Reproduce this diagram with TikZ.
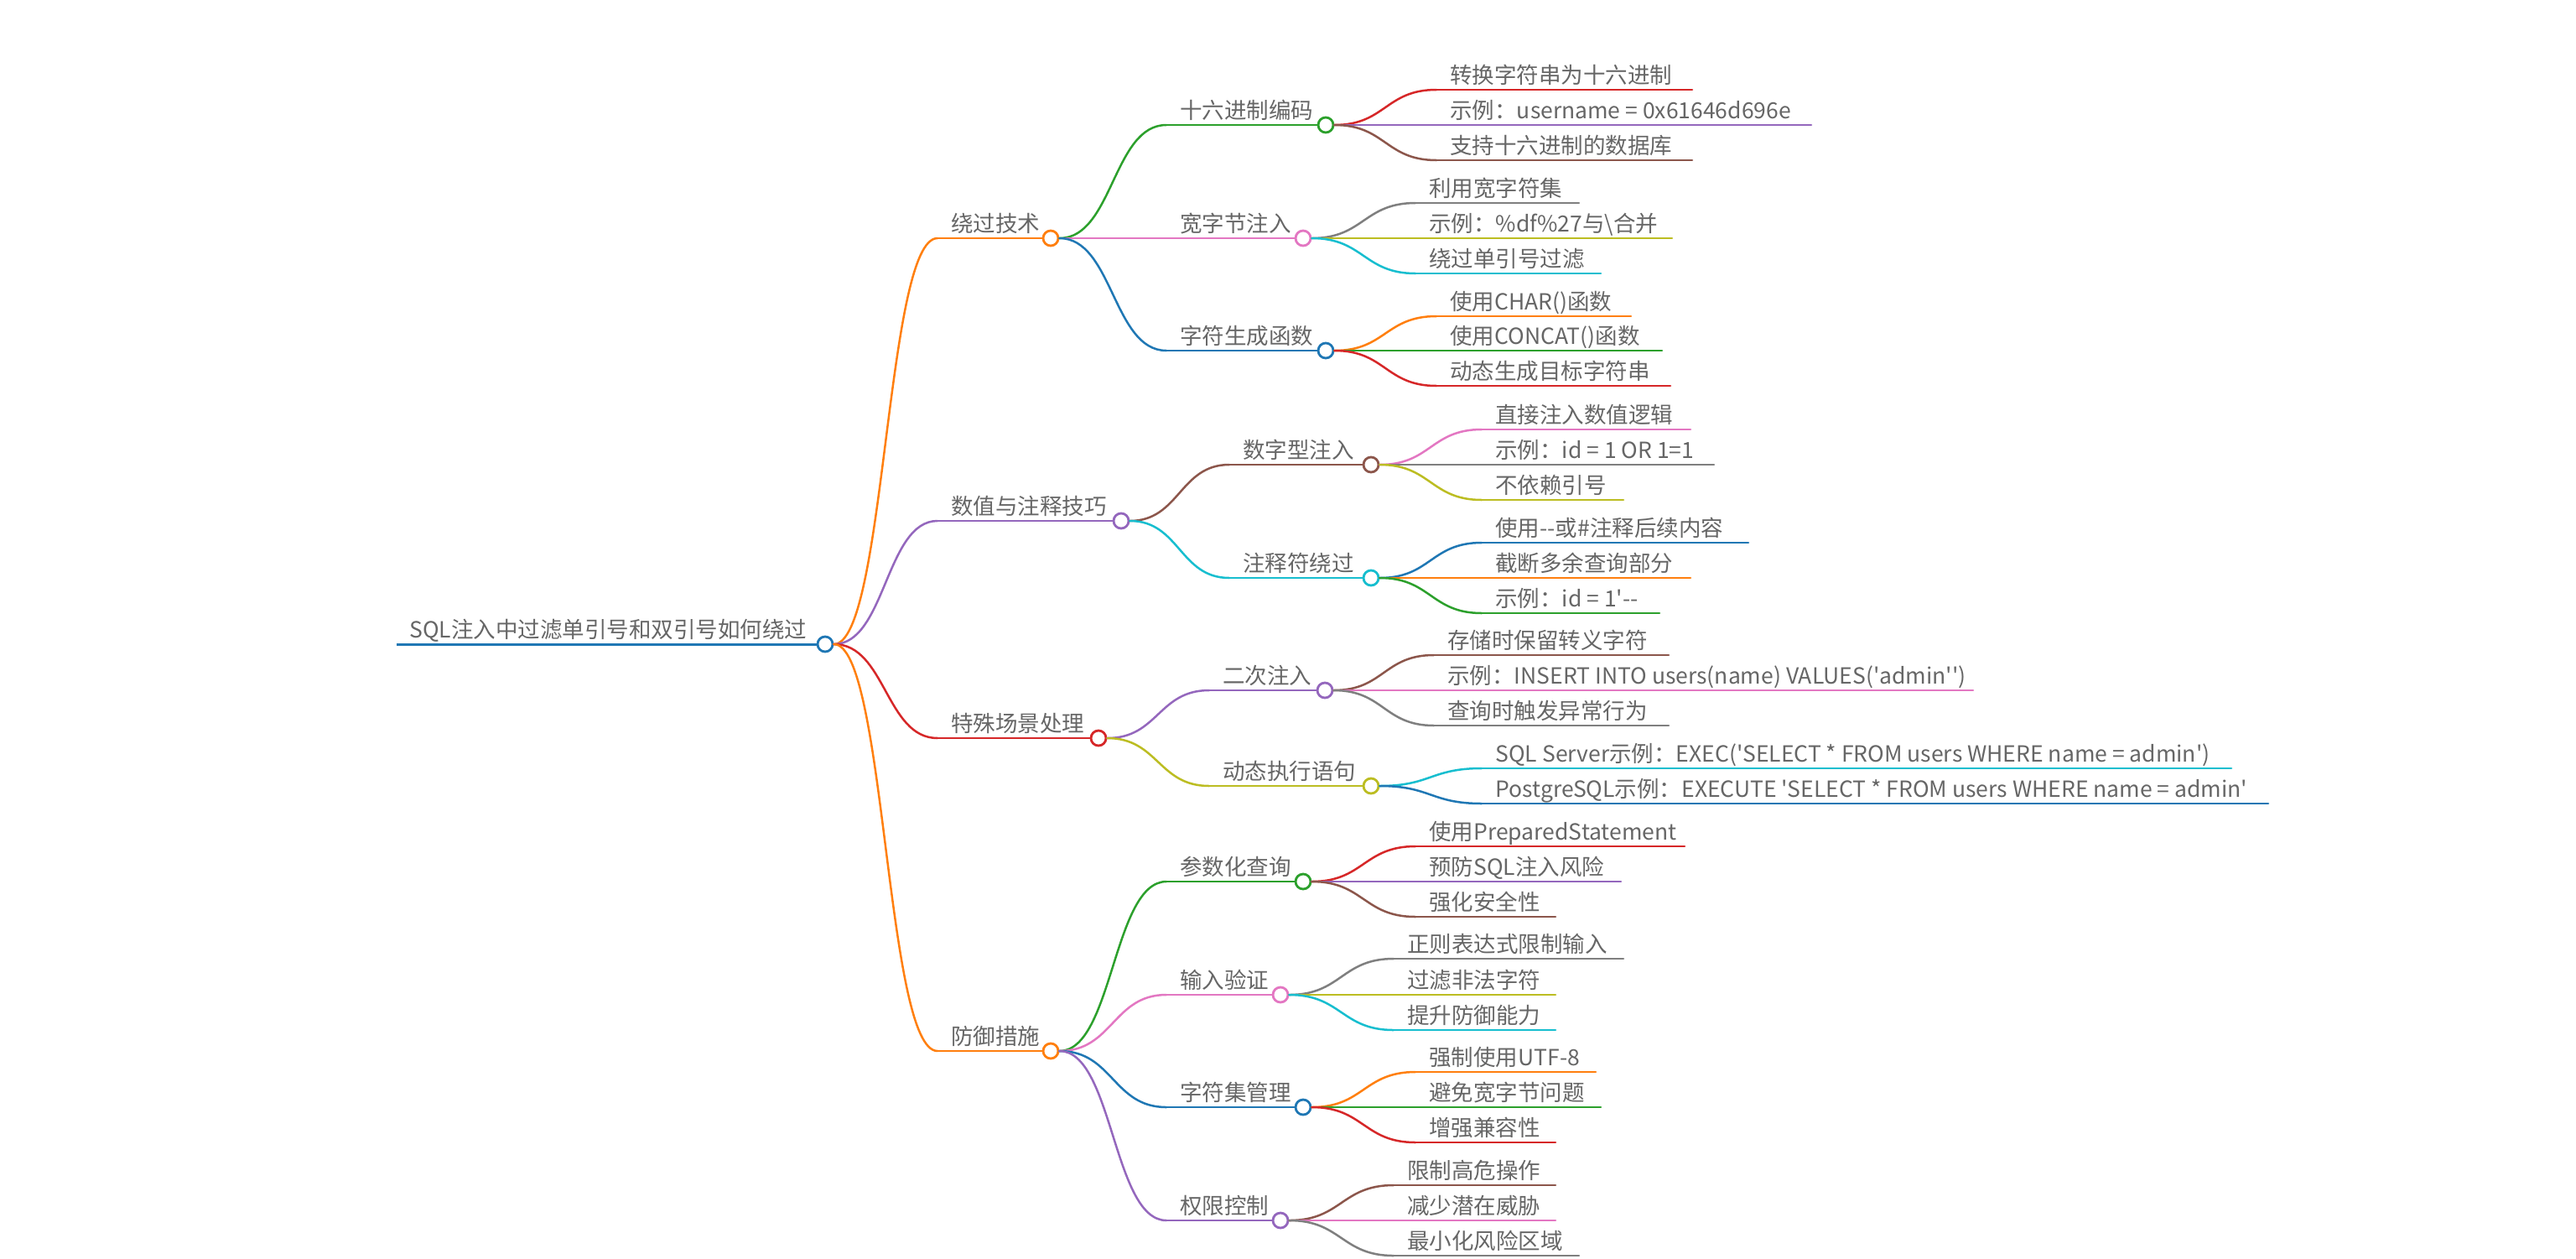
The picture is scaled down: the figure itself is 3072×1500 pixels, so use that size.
\documentclass[tikz,border=0pt]{standalone}
\usepackage{fontspec}
\newfontfamily\mmfont{Noto Sans CJK SC}
\usetikzlibrary{calc}
\definecolor{mblue}{HTML}{1F77B4}
\definecolor{morange}{HTML}{FF7F0E}
\definecolor{mgreen}{HTML}{2CA02C}
\definecolor{mred}{HTML}{D62728}
\definecolor{mpurple}{HTML}{9467BD}
\definecolor{mbrown}{HTML}{8C564B}
\definecolor{mpink}{HTML}{E377C2}
\definecolor{mgray}{HTML}{7F7F7F}
\definecolor{molive}{HTML}{BCBD22}
\definecolor{mcyan}{HTML}{17BECF}
\definecolor{mtext}{HTML}{666666}
\tikzset{
  mmline/.style={line width=1.25pt,line cap=round},
  mmcircle/.style={circle,minimum size=9pt,inner sep=0pt,line width=1.4pt,fill=white},
  mmtext/.style={anchor=base west,inner sep=0pt,text=mtext,font=\mmfont\fontsize{13.25}{16}\selectfont},
}
\newcommand\mminode[6]{%
  \coordinate (#1s) at (#3,#5);
  \node[mmcircle,draw=#2] (#1) at (#4,#5) {};
  \draw[mmline,#2] (#1s) -- (#1.west);
  \node[mmtext] (#1t) at ([shift={(16,-8)}]#1s) {#6};
}
\newcommand\mmleaf[6]{%
  \coordinate (#1s) at (#3,#5);
  \coordinate (#1) at (#4,#5);
  \draw[mmline,#2] (#1s) -- (#1);
  \node[mmtext] (#1t) at ([shift={(16,-8)}]#1s) {#6};
}
\newcommand\mmlink[3]{%
  \draw[mmline,#3] let \p1=(#1.east), \p2=(#2s) in
    (\p1) .. controls ({0.5*\x1+0.5*\x2},\y1) and ({0.5*\x1+0.5*\x2},\y2) .. (\p2);
}
\begin{document}
\begin{tikzpicture}[x=0.5pt,y=-0.5pt]
\useasboundingbox[fill=white] (0,0) rectangle (3072,1500);
% root
\coordinate (rootS) at (473,768);
\node[mmcircle,draw=mblue] (root) at (984,768) {};
\draw[mblue,line width=1.5pt] (rootS) -- (root.west);
\node[mmtext] (roott) at ([shift={(15,-8)}]rootS) {SQL注入中过滤单引号和双引号如何绕过};

% level 1
\mminode{A}{morange}{1118}{1253}{284}{绕过技术}
\mminode{B}{mpurple}{1118}{1337}{621}{数值与注释技巧}
\mminode{C}{mred}{1118}{1310}{880}{特殊场景处理}
\mminode{D}{morange}{1118}{1253}{1253}{防御措施}
\mmlink{root}{A}{morange}
\mmlink{root}{B}{mpurple}
\mmlink{root}{C}{mred}
\mmlink{root}{D}{morange}

% A children
\mminode{Aa}{mgreen}{1391}{1581}{149}{十六进制编码}
\mminode{Ab}{mpink}{1391}{1554}{284}{宽字节注入}
\mminode{Ac}{mblue}{1391}{1581}{418}{字符生成函数}
\mmlink{A}{Aa}{mgreen}
\mmlink{A}{Ab}{mpink}
\mmlink{A}{Ac}{mblue}

\mmleaf{Aa1}{mred}{1713}{2018}{107}{转换字符串为十六进制}
\mmleaf{Aa2}{mpurple}{1713}{2160}{149}{示例：username = 0x61646d696e}
\mmleaf{Aa3}{mbrown}{1713}{2018}{191}{支持十六进制的数据库}
\mmlink{Aa}{Aa1}{mred}
\mmlink{Aa}{Aa2}{mpurple}
\mmlink{Aa}{Aa3}{mbrown}

\mmleaf{Ab1}{mgray}{1688}{1883}{242}{利用宽字符集}
\mmleaf{Ab2}{molive}{1688}{1994}{284}{示例：\%df\%27与\textbackslash 合并}
\mmleaf{Ab3}{mcyan}{1688}{1909}{326}{绕过单引号过滤}
\mmlink{Ab}{Ab1}{mgray}
\mmlink{Ab}{Ab2}{molive}
\mmlink{Ab}{Ab3}{mcyan}

\mmleaf{Ac1}{morange}{1713}{1945}{377}{使用CHAR()函数}
\mmleaf{Ac2}{mgreen}{1713}{1982}{418}{使用CONCAT()函数}
\mmleaf{Ac3}{mred}{1713}{1992}{460}{动态生成目标字符串}
\mmlink{Ac}{Ac1}{morange}
\mmlink{Ac}{Ac2}{mgreen}
\mmlink{Ac}{Ac3}{mred}

% B children
\mminode{Ba}{mbrown}{1466}{1635}{554}{数字型注入}
\mminode{Bb}{mcyan}{1466}{1635}{689}{注释符绕过}
\mmlink{B}{Ba}{mbrown}
\mmlink{B}{Bb}{mcyan}

\mmleaf{Ba1}{mpink}{1767}{2016}{512}{直接注入数值逻辑}
\mmleaf{Ba2}{mgray}{1767}{2044}{554}{示例：id = 1 OR 1=1}
\mmleaf{Ba3}{molive}{1767}{1936}{596}{不依赖引号}
\mmlink{Ba}{Ba1}{mpink}
\mmlink{Ba}{Ba2}{mgray}
\mmlink{Ba}{Ba3}{molive}

\mmleaf{Bb1}{mblue}{1767}{2085}{647}{使用-\kern0pt-或\#注释后续内容}
\mmleaf{Bb2}{morange}{1767}{2016}{689}{截断多余查询部分}
\mmleaf{Bb3}{mgreen}{1767}{1979}{731}{示例：id = 1'-\kern0pt-}
\mmlink{Bb}{Bb1}{mblue}
\mmlink{Bb}{Bb2}{morange}
\mmlink{Bb}{Bb3}{mgreen}

% C children
\mminode{Ca}{mpurple}{1442}{1580}{823}{二次注入}
\mminode{Cb}{molive}{1442}{1635}{937}{动态执行语句}
\mmlink{C}{Ca}{mpurple}
\mmlink{C}{Cb}{molive}

\mmleaf{Ca1}{mbrown}{1710}{1990}{781}{存储时保留转义字符}
\mmleaf{Ca2}{mpink}{1710}{2353}{823}{示例：INSERT INTO users(name) VALUES('admin'{}')}
\mmleaf{Ca3}{mgray}{1710}{1990}{865}{查询时触发异常行为}
\mmlink{Ca}{Ca1}{mbrown}
\mmlink{Ca}{Ca2}{mpink}
\mmlink{Ca}{Ca3}{mgray}

\mmleaf{Cb1}{mcyan}{1767}{2661}{916}{SQL Server示例：EXEC('SELECT * FROM users WHERE name = admin')}
\mmleaf{Cb2}{mblue}{1767}{2705}{958}{PostgreSQL示例：EXECUTE 'SELECT * FROM users WHERE name = admin'}
\mmlink{Cb}{Cb1}{mcyan}
\mmlink{Cb}{Cb2}{mblue}

% D children
\mminode{Da}{mgreen}{1391}{1554}{1051}{参数化查询}
\mminode{Db}{mpink}{1391}{1527}{1186}{输入验证}
\mminode{Dc}{mblue}{1391}{1554}{1320}{字符集管理}
\mminode{Dd}{mpurple}{1391}{1527}{1455}{权限控制}
\mmlink{D}{Da}{mgreen}
\mmlink{D}{Db}{mpink}
\mmlink{D}{Dc}{mblue}
\mmlink{D}{Dd}{mpurple}

\mmleaf{Da1}{mred}{1688}{2009}{1009}{使用PreparedStatement}
\mmleaf{Da2}{mpurple}{1688}{1933}{1051}{预防SQL注入风险}
\mmleaf{Da3}{mbrown}{1688}{1855}{1093}{强化安全性}
\mmlink{Da}{Da1}{mred}
\mmlink{Da}{Da2}{mpurple}
\mmlink{Da}{Da3}{mbrown}

\mmleaf{Db1}{mgray}{1662}{1936}{1143}{正则表达式限制输入}
\mmleaf{Db2}{molive}{1662}{1855}{1186}{过滤非法字符}
\mmleaf{Db3}{mcyan}{1662}{1855}{1228}{提升防御能力}
\mmlink{Db}{Db1}{mgray}
\mmlink{Db}{Db2}{molive}
\mmlink{Db}{Db3}{mcyan}

\mmleaf{Dc1}{morange}{1688}{1903}{1278}{强制使用UTF-8}
\mmleaf{Dc2}{mgreen}{1688}{1909}{1320}{避免宽字节问题}
\mmleaf{Dc3}{mred}{1688}{1855}{1362}{增强兼容性}
\mmlink{Dc}{Dc1}{morange}
\mmlink{Dc}{Dc2}{mgreen}
\mmlink{Dc}{Dc3}{mred}

\mmleaf{Dd1}{mbrown}{1662}{1855}{1413}{限制高危操作}
\mmleaf{Dd2}{mpink}{1662}{1855}{1455}{减少潜在威胁}
\mmleaf{Dd3}{mgray}{1662}{1883}{1497}{最小化风险区域}
\mmlink{Dd}{Dd1}{mbrown}
\mmlink{Dd}{Dd2}{mpink}
\mmlink{Dd}{Dd3}{mgray}
\end{tikzpicture}
\end{document}
